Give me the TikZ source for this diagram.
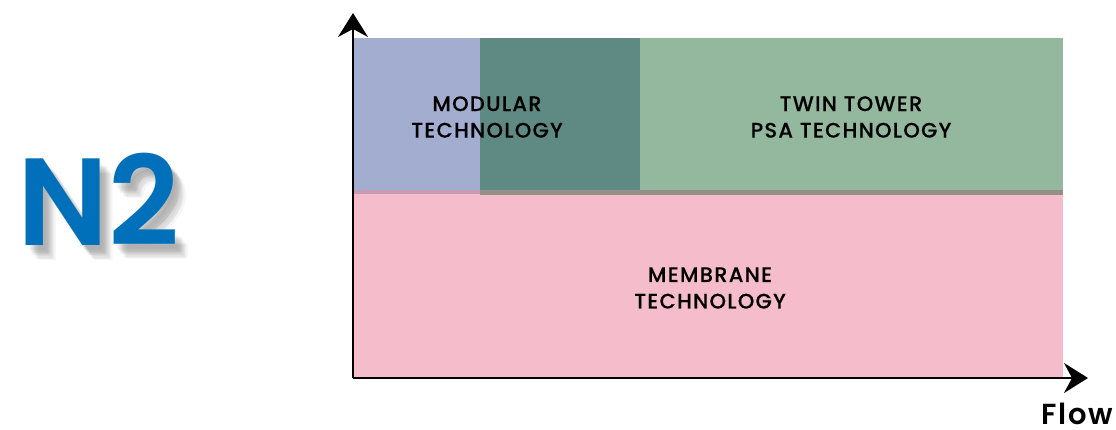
\documentclass[tikz,border=0pt]{standalone}
\usepackage{fontspec}
\setmainfont{Poppins}
\newfontfamily\popwide{Poppins Medium}[LetterSpace=6, FakeBold=0.3]
\newfontfamily\popflow{Poppins SemiBold}[LetterSpace=6]
\newfontfamily\popsemi{Poppins SemiBold}
\usetikzlibrary{arrows.meta}
\definecolor{modblue}{HTML}{A3ADD0}
\definecolor{mixteal}{HTML}{5F8A83}
\definecolor{twingreen}{HTML}{94B89D}
\definecolor{membpink}{HTML}{F5BDCB}
\definecolor{bluepink}{HTML}{C69BB5}
\definecolor{greenpink}{HTML}{968F87}
\definecolor{ntwoblue}{HTML}{0070BA}
\tikzset{
	areatext/.style={align=center, font=\popwide\fontsize{21}{26.5}\selectfont, text=black},
	axis/.style={line width=2pt, -{Stealth[length=24pt, width=30pt, inset=8pt]}}
}
\begin{document}
\begin{tikzpicture}[x=1pt, y=-1pt]
		\useasboundingbox (0,0) rectangle (1116,430);
		
		% areas
		\fill[membpink] (353,190) rectangle (1063,378);
		\fill[modblue] (353,38) rectangle (480,190);
		\fill[bluepink] (353,190) rectangle (480,194);
		\fill[mixteal] (480,38) rectangle (640,190);
		\fill[greenpink] (480,190) rectangle (1063,195);
		\fill[twingreen] (640,38) rectangle (1063,190);
		
		\node[areatext] (modular) at (487,117) {MODULAR\\TECHNOLOGY};
		\node[areatext] (twin) at (851,117) {TWIN TOWER\\PSA TECHNOLOGY};
		\node[areatext] (membrane) at (710,288) {MEMBRANE\\TECHNOLOGY};
		
		% axes
		\coordinate (origin) at (353,378);
		\coordinate (ytip) at (353,13);
		\coordinate (xtip) at (1088,378);
		\draw[axis] (origin) -- (ytip);
		\draw[axis] (origin) -- (xtip);
		\node[font=\popflow\fontsize{29}{32}\selectfont, anchor=east, inner sep=0pt] (flow) at (1113,414) {Flow};
		
		% N2 with soft shadow
		\foreach \dx/\dy in {3/5,5/7,7/9,9/11,11/13,13/15,6/10,8/8,10/14}
			\node[font=\popsemi\fontsize{124}{124}\selectfont, text=black, opacity=0.04] at (99+\dx,199+\dy) {N2};
		\node[font=\popsemi\fontsize{124}{124}\selectfont, text=ntwoblue] (ntwo) at (99,199) {N2};
	\end{tikzpicture}
\end{document}
